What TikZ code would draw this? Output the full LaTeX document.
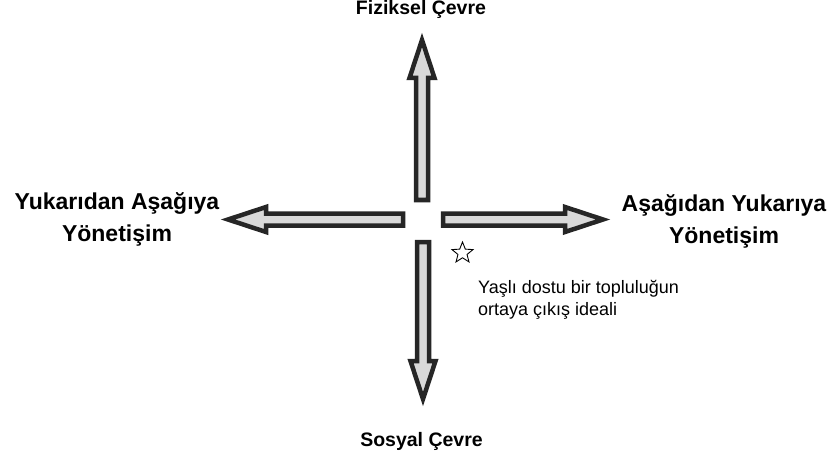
\documentclass[tikz,border=0pt]{standalone}
\usepackage{fontspec}
\setmainfont{Liberation Sans}
\usetikzlibrary{shapes.geometric}
\definecolor{rim}{HTML}{262626}
\definecolor{core}{HTML}{D9D9D9}
\tikzset{
  axis arrow/.style={draw=rim,fill=core,line width=4.5pt,line join=miter},
  pole/.style={font=\bfseries\fontsize{19.5}{24}\selectfont,inner sep=0pt},
  side/.style={font=\bfseries\fontsize{23}{32}\selectfont,align=center,inner sep=0pt},
  note/.style={font=\fontsize{18}{22}\selectfont,align=left,inner sep=0pt}
}
% #1 start, #2 direction, #3 length
\newcommand{\fatarrow}[3]{%
  \draw[axis arrow,shift={#1},rotate=#2] (0,-6) -- (#3-38,-6) -- (#3-38,-12.5)
    -- (#3,0) -- (#3-38,12.5) -- (#3-38,6) -- (0,6) -- cycle;}

\begin{document}
\begin{tikzpicture}[x=1pt,y=-1pt]
  \useasboundingbox (0,0) rectangle (832,457);
  \fatarrow{(422,200)}{90}{160}
  \fatarrow{(423,242)}{-90}{157}
  \fatarrow{(403,219.5)}{180}{175}
  \fatarrow{(443,219.5)}{0}{160}
  \node[pole,anchor=base] (phys) at (421,15) {Fiziksel Çevre};
  \node[pole,anchor=base] (social) at (421.5,446) {Sosyal Çevre};
  % multi-line nodes: base sits on the last line
  \node[side,anchor=base] (topdown) at (117,241) {Yukarıdan Aşağıya\\Yönetişim};
  \node[side,anchor=base] (bottomup) at (724,243) {Aşağıdan Yukarıya\\Yönetişim};
  \node[star,star points=5,star point ratio=2.3,draw=black,line width=0.9pt,minimum size=22pt,inner sep=0pt] (ideal) at (462.5,253) {};
  \node[note,anchor=base west] (idealtext) at (478,315) {Yaşlı dostu bir topluluğun\\ortaya çıkış ideali};
\end{tikzpicture}
\end{document}
